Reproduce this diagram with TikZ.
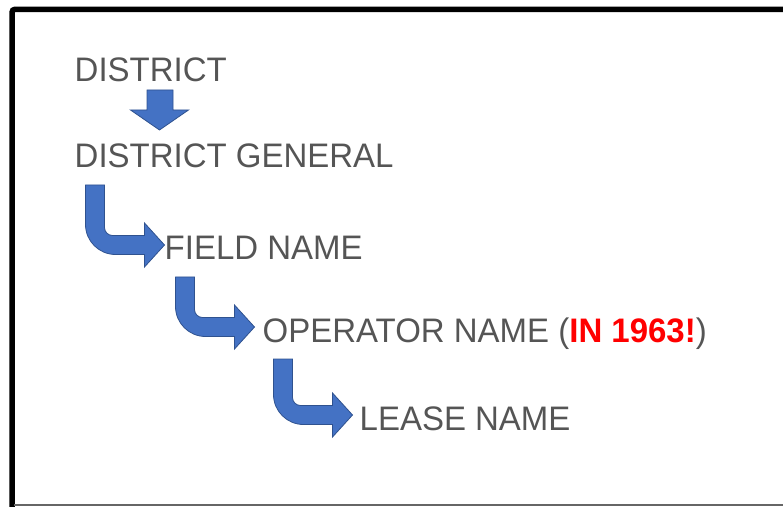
\documentclass[tikz,border=0pt]{standalone}
\usepackage{fontspec}
\setmainfont{Liberation Sans}[FakeStretch=0.97]
\usetikzlibrary{calc}
\definecolor{txtgray}{HTML}{555555}
\definecolor{arrowblue}{HTML}{4472C4}
\definecolor{arrowedge}{HTML}{2F528F}
\definecolor{alertred}{HTML}{FF0000}
% bent block arrow from the line above to the line below
\newcommand{\bentarrow}[2]{%
\draw[block arrow] let \p1=(#1.base west), \p2=(#2.base west) in
 (\x1+11pt,\y1-17pt) -- (\x1+11pt,\y2+35.5pt) arc[start angle=180,end angle=270,radius=30pt]
 -- (\x1+70pt,\y2+5.5pt) -- (\x1+70pt,\y2-7pt) -- (\x1+90pt,\y2+15pt) -- (\x1+70pt,\y2+37pt)
 -- (\x1+70pt,\y2+24.5pt) -- (\x1+38pt,\y2+24.5pt) arc[start angle=270,end angle=180,radius=8pt]
 -- (\x1+30pt,\y1-17pt) -- cycle;}
\begin{document}
\begin{tikzpicture}[x=1pt, y=1pt, label node/.style={anchor=base west,inner sep=0pt,text=txtgray}, block arrow/.style={fill=arrowblue,draw=arrowedge,line width=0.8pt,line join=miter}]
\useasboundingbox (0,0) rectangle (783,506);
\draw[line width=5.5pt, rounded corners=3pt] (12,-5) -- (12,496.7) -- (795,496.7);
\draw[black!60, line width=1.8pt] (14,1.2) -- (790,1.2);
\begin{scope}[every node/.style={font=\fontsize{34}{40}\selectfont}]
\node[label node] (d) at (74.5,424) {DISTRICT};
\node[label node] (dg) at (74.5,338) {DISTRICT GENERAL};
\node[label node] (fn) at (164.5,246) {FIELD NAME};
\node[label node] (op) at (262.5,164) {OPERATOR NAME (\textbf{\textcolor{alertred}{IN 1963!}})};
\node[label node] (ls) at (359.5,76) {LEASE NAME};
%\node[label node] () at (,) {};
\end{scope}
\begin{scope}
\draw[block arrow] let \p1=(d.base west), \p2=(dg.base west) in
 (\x1+72.5pt,\y1-8pt) -- (\x1+72.5pt,\y1-28pt) -- (\x1+56pt,\y1-28pt) -- (\x1+85pt,\y2+38pt)
 -- (\x1+114pt,\y1-28pt) -- (\x1+98.5pt,\y1-28pt) -- (\x1+98.5pt,\y1-8pt) -- cycle;
\bentarrow{dg}{fn}
\bentarrow{fn}{op}
\bentarrow{op}{ls}
%\bentarrow{}{}
\end{scope}
\end{tikzpicture}
\end{document}
